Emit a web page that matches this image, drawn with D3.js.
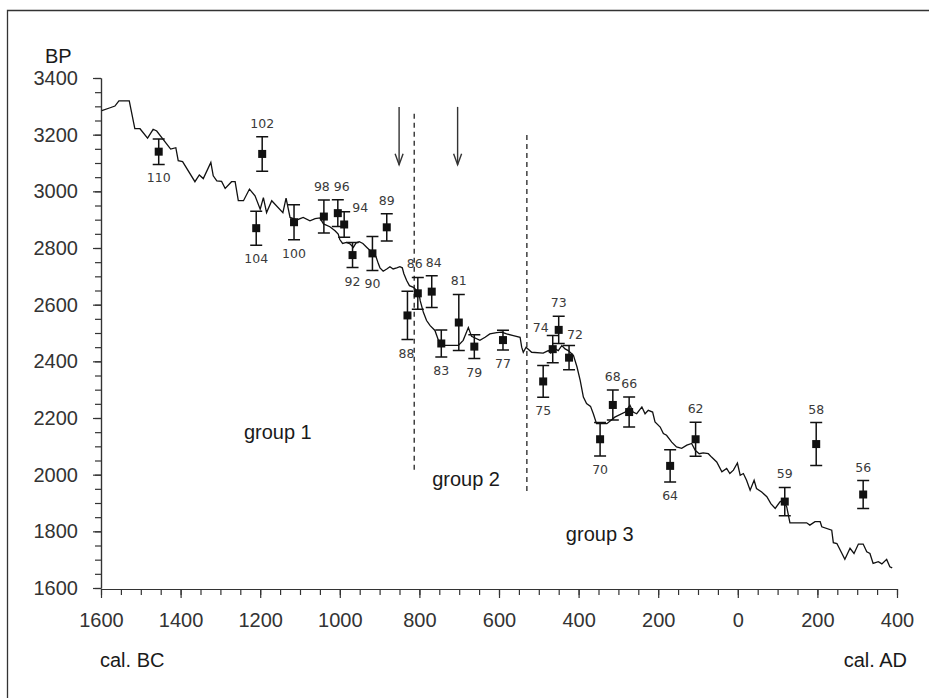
<!DOCTYPE html>
<html lang="en">
<head>
	<meta charset="UTF-8"/>
	<title>Radiocarbon dates against the calibration curve</title>
	<script src="https://d3js.org/d3.v7.min.js"></script>
	<style>
		body { margin: 0; background: #fff; }
		svg text { font-family: "Liberation Sans", Arial, sans-serif; }
	</style>
</head>
<body>
<script>

	// calibration curve: [calendar year (BC negative), BP]
	var calCurve = [
		[-1598,3285],[-1577,3295],[-1565,3301],[-1555,3319],[-1529,3319],[-1515,3221],[-1502,3221],
		[-1483,3188],[-1469,3219],[-1460,3213],[-1425,3149],[-1412,3154],[-1406,3108],[-1395,3105],
		[-1364,3034],[-1353,3058],[-1343,3045],[-1324,3102],[-1318,3055],[-1309,3037],[-1297,3035],
		[-1288,3010],[-1272,3034],[-1263,3034],[-1255,2967],[-1242,2967],[-1227,3008],[-1213,2984],
		[-1200,2937],[-1192,2978],[-1184,2925],[-1171,2967],[-1143,2925],[-1135,2976],[-1125,2908],
		[-1108,2899],[-1092,2908],[-1075,2896],[-1062,2904],[-1050,2906],[-1041,2885],[-1025,2875],
		[-1012,2861],[-1004,2849],[-1000,2830],[-993,2816],[-983,2820],[-974,2814],[-966,2802],
		[-959,2818],[-951,2822],[-942,2816],[-932,2802],[-924,2791],[-916,2785],[-909,2769],
		[-903,2744],[-899,2730],[-891,2718],[-882,2726],[-874,2734],[-866,2726],[-857,2730],
		[-849,2734],[-843,2730],[-839,2709],[-832,2685],[-825,2667],[-815,2661],[-807,2650],
		[-800,2632],[-798,2614],[-790,2573],[-782,2544],[-773,2526],[-761,2509],[-752,2474],
		[-744,2456],[-702,2456],[-690,2474],[-677,2519],[-669,2488],[-648,2474],[-635,2485],
		[-623,2497],[-606,2501],[-593,2503],[-581,2497],[-564,2491],[-547,2485],[-543,2450],
		[-539,2432],[-532,2450],[-518,2432],[-489,2429],[-476,2438],[-470,2429],[-459,2444],
		[-451,2438],[-442,2456],[-434,2444],[-426,2438],[-413,2421],[-404,2380],[-396,2333],
		[-388,2274],[-380,2251],[-370,2241],[-363,2215],[-355,2180],[-329,2180],[-309,2203],
		[-283,2221],[-271,2245],[-263,2221],[-254,2215],[-241,2239],[-233,2215],[-225,2227],
		[-214,2221],[-208,2186],[-195,2168],[-187,2145],[-179,2139],[-166,2115],[-154,2098],
		[-141,2093],[-128,2104],[-116,2110],[-107,2086],[-97,2074],[-87,2077],[-74,2074],
		[-66,2062],[-53,2045],[-40,2010],[-28,2022],[-20,2004],[-11,2016],[-1,2041],[6,1998],
		[14,2004],[22,1980],[31,1945],[41,1980],[47,1951],[60,1939],[73,1922],[83,1898],
		[94,1881],[106,1904],[114,1910],[123,1886],[131,1830],[173,1830],[181,1822],[194,1834],
		[207,1834],[211,1816],[236,1804],[240,1760],[249,1757],[269,1701],[282,1740],[292,1722],
		[303,1755],[315,1755],[324,1728],[332,1722],[340,1687],[353,1693],[362,1685],[374,1701],
		[382,1675],[388,1671]
	];

	// dated samples
	var sampleIds   = ["110","102","104","100","98","96","94","92","90","89","88","86","84","83","81",
	                   "79","77","75","74","73","72","70","68","66","64","62","59","58","56"];
	var sampleYears = [-1455,-1195,-1210,-1115,-1040,-1005,-989,-968,-918,-882,-830,-804,-769,-745,-701,
	                   -662,-590,-489,-465,-450,-424,-346,-314,-273,-170,-106,118,197,315];
	var sampleBP    = [3140,3132,2870,2891,2911,2923,2883,2775,2781,2873,2562,2640,2646,2463,2537,
	                   2452,2475,2329,2443,2511,2413,2125,2246,2221,2031,2125,1905,2108,1930];
	var sampleErr   = [45,61,60,62,58,47,45,44,60,48,85,56,56,48,99,
	                   42,35,56,48,48,43,59,53,53,57,60,50,76,49];

	// annotations
	var boundaryYears = [-813, -530];
	var boundaryBP    = [[3274, 2016], [3199, 1935]];
	var arrowYears    = [-851, -704];
	var arrowBP       = [3298, 3094];
	var groupNames    = ["group 1", "group 2", "group 3"];
	var groupYears    = [-1241, -768, -432];
	var groupBP       = [2125, 1959, 1766];

	var yTicks = d3.range(1600, 3401, 200);
	var xTicks = d3.range(-1600, 401, 200);

	// where the sample number sits relative to its error bar: [side, x nudge]
	var labelPlace = {
		"110":["below",0],"102":["above",0],"104":["below",0],"100":["below",0],"98":["above",-2],
		"96":["above",4],"94":["right",16],"92":["below",0],"90":["below",0],"89":["above",0],
		"88":["below",-1],"86":["above",-3],"84":["above",2],"83":["below",0],"81":["above",0],
		"79":["below",0],"77":["below",0],"75":["below",0],"74":["left",-12],"73":["above",0],
		"72":["upright",6],"70":["below",0],"68":["above",0],"66":["above",0],"64":["below",0],
		"62":["above",0],"59":["above",0],"58":["above",0],"56":["above",0]
	};

	var w = 929;
	var h = 698;
	var ink = "#1a1a1a";

	var samples = sampleIds.map(function(id, i){
		return {id: id, year: sampleYears[i], bp: sampleBP[i], err: sampleErr[i]};
	});

	var xScale = d3.scaleLinear().domain([-1600, 400]).range([101, 897]);
	var yScale = d3.scaleLinear().domain([1600, 3400]).range([588, 78]);

	var svg = d3.select("body")
				.append("svg")
				.attr("width", w)
				.attr("height", h);

	svg.append("rect").attr("width", w).attr("height", h).attr("fill", "#fff");

	// frame (only left and top show)
	svg.append("path")
		.attr("d", "M7.5," + h + "V10.5H" + w)
		.attr("fill", "none")
		.attr("stroke", "#333")
		.attr("stroke-width", 1.3);

	//y axis: minor then major ticks
	var yMinor = svg.append("g")
		.attr("transform", "translate(101,0)")
		.call(d3.axisLeft(yScale).tickValues(d3.range(1600, 3401, 50)).tickSize(6).tickSizeOuter(0).tickFormat(""));
	var yMajor = svg.append("g")
		.attr("transform", "translate(101,0)")
		.call(d3.axisLeft(yScale).tickValues(yTicks).tickSize(8).tickSizeOuter(0).tickPadding(15)
			.tickFormat(d3.format("d")));

	//x axis
	var xMinor = svg.append("g")
		.attr("transform", "translate(0,589)")
		.call(d3.axisBottom(xScale).tickValues(d3.range(-1600, 401, 50)).tickSize(6).tickSizeOuter(0).tickFormat(""));
	var xMajor = svg.append("g")
		.attr("transform", "translate(0,589)")
		.call(d3.axisBottom(xScale).tickValues(xTicks).tickSize(9).tickSizeOuter(0).tickPadding(15)
			.tickFormat(function(d){ return Math.abs(d); }));

	[yMinor, yMajor, xMinor, xMajor].forEach(function(g){
		g.selectAll("path, line").attr("stroke", "#333").attr("stroke-width", 1.2);
		g.selectAll("text")
			.attr("fill", "#333")
			.style("font-size", "20px")
			.style("font-family", "'Liberation Sans', Arial, sans-serif");
	});

	//axis titles
	svg.append("text").text("BP").attr("x", 45).attr("y", 63)
		.attr("fill", ink).style("font-size", "20px");
	svg.append("text").text("cal. BC").attr("x", 100).attr("y", 667)
		.attr("fill", ink).style("font-size", "20px");
	svg.append("text").text("cal. AD").attr("x", 907).attr("y", 667)
		.attr("text-anchor", "end")
		.attr("fill", ink).style("font-size", "20px");

	//group boundaries
	svg.selectAll(".boundary")
		.data(boundaryYears)
		.enter()
		.append("line")
		.attr("class", "boundary")
		.attr("x1", function(d){ return xScale(d); })
		.attr("x2", function(d){ return xScale(d); })
		.attr("y1", function(d, i){ return yScale(boundaryBP[i][0]); })
		.attr("y2", function(d, i){ return yScale(boundaryBP[i][1]); })
		.attr("stroke", "#333")
		.attr("stroke-width", 1.4)
		.attr("stroke-dasharray", "5,4");

	//arrows
	arrowYears.forEach(function(yr){
		var ax = xScale(yr);
		var y1 = yScale(arrowBP[0]);
		var y2 = yScale(arrowBP[1]);
		svg.append("line")
			.attr("x1", ax).attr("x2", ax).attr("y1", y1).attr("y2", y2)
			.attr("stroke", "#333").attr("stroke-width", 1.4);
		svg.append("path")
			.attr("d", "M" + (ax - 4) + "," + (y2 - 11) + "L" + ax + "," + y2 + "L" + (ax + 4) + "," + (y2 - 11))
			.attr("fill", "none").attr("stroke", "#333").attr("stroke-width", 1.4);
	});

	//group names
	svg.selectAll(".group")
		.data(groupNames)
		.enter()
		.append("text")
		.attr("class", "group")
		.text(function(d){ return d; })
		.attr("x", function(d, i){ return xScale(groupYears[i]); })
		.attr("y", function(d, i){ return yScale(groupBP[i]); })
		.attr("fill", ink)
		.style("font-size", "20px");

	//calibration curve
	var line = d3.line()
		.x(function(d){ return xScale(d[0]); })
		.y(function(d){ return yScale(d[1]); });

	svg.append("path")
		.datum(calCurve)
		.attr("d", line)
		.attr("fill", "none")
		.attr("stroke", "#111")
		.attr("stroke-width", 1.3)
		.attr("stroke-linejoin", "miter");

	//error bars
	var cap = 6;
	var bars = svg.selectAll(".sample")
		.data(samples)
		.enter()
		.append("g")
		.attr("class", "sample");

	bars.append("path")
		.attr("d", function(d){
			var cx = xScale(d.year);
			var yt = yScale(d.bp + d.err);
			var yb = yScale(d.bp - d.err);
			return "M" + cx + "," + yt + "V" + yb +
				"M" + (cx - cap) + "," + yt + "H" + (cx + cap) +
				"M" + (cx - cap) + "," + yb + "H" + (cx + cap);
		})
		.attr("fill", "none")
		.attr("stroke", "#111")
		.attr("stroke-width", 1.5);

	bars.append("rect")
		.attr("x", function(d){ return xScale(d.year) - 4; })
		.attr("y", function(d){ return yScale(d.bp) - 4; })
		.attr("width", 8)
		.attr("height", 8)
		.attr("fill", "#111");

	//sample numbers
	bars.append("text")
		.text(function(d){ return d.id; })
		.attr("x", function(d){
			return xScale(d.year) + labelPlace[d.id][1];
		})
		.attr("y", function(d){
			var p = labelPlace[d.id][0];
			var yt = yScale(d.bp + d.err);
			var yb = yScale(d.bp - d.err);
			if (p === "below") return yb + 18;
			if (p === "right") return yt;
			if (p === "left") return yt - 4;
			if (p === "upright") return yt - 6;
			return yt - 9;
		})
		.attr("text-anchor", "middle")
		.attr("fill", "#3a3a3a")
		.style("font-family", "'DejaVu Sans', sans-serif")
		.style("font-size", "12.5px");

</script>
</body>
</html>
